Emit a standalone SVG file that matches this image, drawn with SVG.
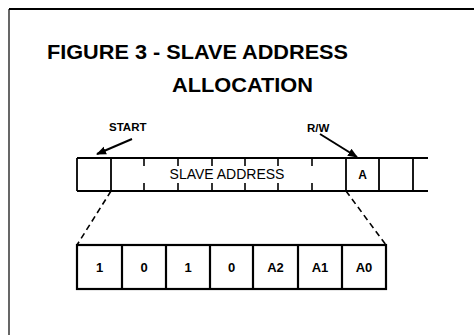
<svg xmlns="http://www.w3.org/2000/svg" width="474" height="335" viewBox="0 0 474 335">
<defs>
<marker id="ah" viewBox="0 0 10 10" refX="9" refY="5" markerWidth="10" markerHeight="10" markerUnits="userSpaceOnUse" orient="auto">
<path d="M0,1 L10,5 L0,9 Z" fill="#000"/>
</marker>
<style>
.t{font-family:"Liberation Sans",Arial,sans-serif;font-weight:bold;fill:#000}
.r{font-family:"Liberation Sans",Arial,sans-serif;fill:#000}
.ln{stroke:#000;stroke-width:1.8;fill:none}
.bx{stroke:#000;stroke-width:2.2;fill:#fff}
.dash{stroke:#000;stroke-width:1.6;stroke-dasharray:6,4;fill:none}
</style>
</defs>
<rect width="474" height="335" fill="#fff"/>
<g id="frame">
<line x1="9" y1="9" x2="474" y2="9" stroke="#000" stroke-width="2"/>
<line x1="9" y1="9" x2="9" y2="335" stroke="#000" stroke-width="1.2"/>
</g>
<g id="title">
<text class="t" x="47" y="59" font-size="21" textLength="301" lengthAdjust="spacingAndGlyphs">FIGURE 3 - SLAVE ADDRESS</text>
<text class="t" x="172" y="92" font-size="21" textLength="141" lengthAdjust="spacingAndGlyphs">ALLOCATION</text>
</g>
<g id="labels">
<text class="t" x="109" y="131" font-size="11.5">START</text>
<text class="t" x="307" y="132" font-size="11.5">R/W</text>
</g>
<g id="byte-bar">
<line class="ln" x1="77" y1="158" x2="428" y2="158"/>
<line class="ln" x1="77" y1="191" x2="428" y2="191"/>
<line class="ln" x1="77" y1="158" x2="77" y2="191"/>
<line class="ln" x1="111" y1="158" x2="111" y2="191"/>
<line class="ln" x1="346" y1="158" x2="346" y2="191"/>
<line class="ln" x1="379" y1="158" x2="379" y2="191"/>
<line class="ln" x1="413" y1="158" x2="413" y2="191"/>
<g stroke="#000" stroke-width="1.6">
<line x1="144" y1="158" x2="144" y2="166"/><line x1="144" y1="183" x2="144" y2="191"/>
<line x1="178" y1="158" x2="178" y2="166"/><line x1="178" y1="183" x2="178" y2="191"/>
<line x1="212" y1="158" x2="212" y2="166"/><line x1="212" y1="183" x2="212" y2="191"/>
<line x1="245" y1="158" x2="245" y2="166"/><line x1="245" y1="183" x2="245" y2="191"/>
<line x1="278" y1="158" x2="278" y2="166"/><line x1="278" y1="183" x2="278" y2="191"/>
<line x1="312" y1="158" x2="312" y2="166"/><line x1="312" y1="183" x2="312" y2="191"/>
</g>
<text class="r" x="227" y="179" font-size="14" text-anchor="middle">SLAVE ADDRESS</text>
<text class="t" x="362.5" y="179" font-size="12" text-anchor="middle">A</text>
</g>
<g id="bits">
<rect class="bx" x="77" y="245" width="309" height="44"/>
<g stroke="#000" stroke-width="2.2">
<line x1="122" y1="245" x2="122" y2="289"/>
<line x1="166" y1="245" x2="166" y2="289"/>
<line x1="210" y1="245" x2="210" y2="289"/>
<line x1="253" y1="245" x2="253" y2="289"/>
<line x1="298" y1="245" x2="298" y2="289"/>
<line x1="342" y1="245" x2="342" y2="289"/>
</g>
<g class="t" font-size="13" text-anchor="middle">
<text x="99.5" y="272">1</text>
<text x="144" y="272">0</text>
<text x="188" y="272">1</text>
<text x="231.5" y="272">0</text>
<text x="275.5" y="272">A2</text>
<text x="320" y="272">A1</text>
<text x="364" y="272">A0</text>
</g>
</g>
<g id="connectors">
<line x1="132" y1="139" x2="97" y2="154" stroke="#000" stroke-width="2" marker-end="url(#ah)"/>
<line x1="320" y1="134" x2="357" y2="157" stroke="#000" stroke-width="2" marker-end="url(#ah)"/>
<line class="dash" x1="111" y1="191" x2="77" y2="245"/>
<line class="dash" x1="346" y1="191" x2="386" y2="245"/>
</g>
</svg>
